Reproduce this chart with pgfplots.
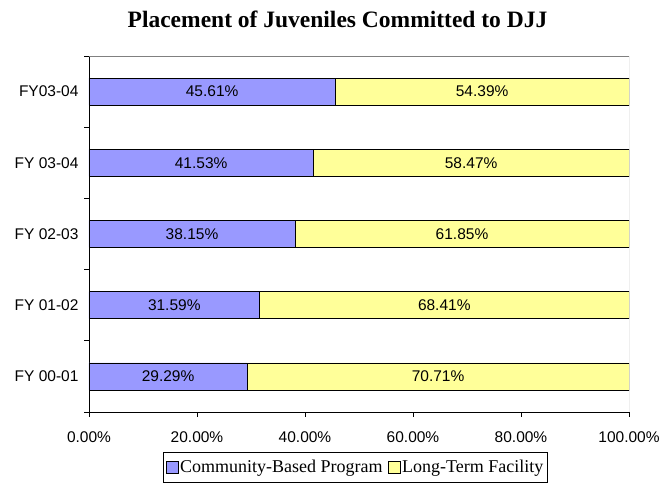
\documentclass[border=0pt]{standalone}
\usepackage{pgfplots}
\pgfplotsset{compat=1.18}
\usepackage{fontspec}
\setmainfont{Liberation Sans}
\newfontfamily\serif{Liberation Serif}
\definecolor{comm}{HTML}{9999FF}
\definecolor{ltf}{HTML}{FFFF99}

\begin{document}
\begin{tikzpicture}
\begin{axis}[
  at={(0,0)}, anchor=south west,
  scale only axis, width=540pt, height=356pt,
  xbar stacked, bar width=27pt,
  xmin=0, xmax=100, ymin=-0.5, ymax=4.5,
  axis lines*=left, axis line style={black, line width=0.8pt, -},
  font=\fontsize{15.5}{18}\selectfont,
  tick align=outside, major tick length=5pt,
  tick style={black, line width=0.8pt},
  xtick={0,20,...,100},
  xticklabels={0.00\%,20.00\%,40.00\%,60.00\%,80.00\%,100.00\%},
  xticklabel style={yshift=-11pt},
  ytick={-0.5,0.5,1.5,2.5,3.5,4.5},
  yticklabels={FY 00-01,FY 01-02,FY 02-03,FY 03-04,FY03-04,{}},
  yticklabel style={yshift=35.6pt, xshift=-2pt},
  title={Placement of Juveniles Committed to DJJ},
  title style={font=\serif\bfseries\fontsize{23.5}{26}\selectfont,
    at={(0.5,1)}, anchor=base, yshift=22pt, xshift=-21.5pt},
  visualization depends on={rawx \as \rawx},
  nodes near coords={\pgfmathprintnumber[fixed,fixed zerofill,precision=2,assume math mode=true]{\rawx}\%},
  every node near coord/.append style={anchor=center, black},
  legend columns=2,
  legend style={draw=black, line width=0.6pt, at={(0.5,0)}, anchor=center,
    xshift=-3.5pt, yshift=-55.5pt, inner xsep=2pt, inner ysep=6pt,
    font=\serif\fontsize{18}{20}\selectfont,
    /tikz/every even column/.append style={column sep=3pt}},
  legend image code/.code={\draw[#1, draw=black, line width=0.5pt] (0pt,-6pt) rectangle (12pt,6pt);},
]
\addplot[fill=comm, draw=black, line width=0.7pt] coordinates {
  (29.29,0) (31.59,1) (38.15,2) (41.53,3) (45.61,4)};
\addlegendentry{Community-Based Program}
\addplot[fill=ltf, draw=black, line width=0.7pt] coordinates {
  (70.71,0) (68.41,1) (61.85,2) (58.47,3) (54.39,4)};
\addlegendentry{Long-Term Facility}
\draw[gray, line width=0.8pt] (rel axis cs:0,1) -- (rel axis cs:1,1) -- (rel axis cs:1,0);
\end{axis}
\pgfresetboundingbox
\path (-89pt,-72pt) rectangle (573pt,412pt);
\end{tikzpicture}
\end{document}
